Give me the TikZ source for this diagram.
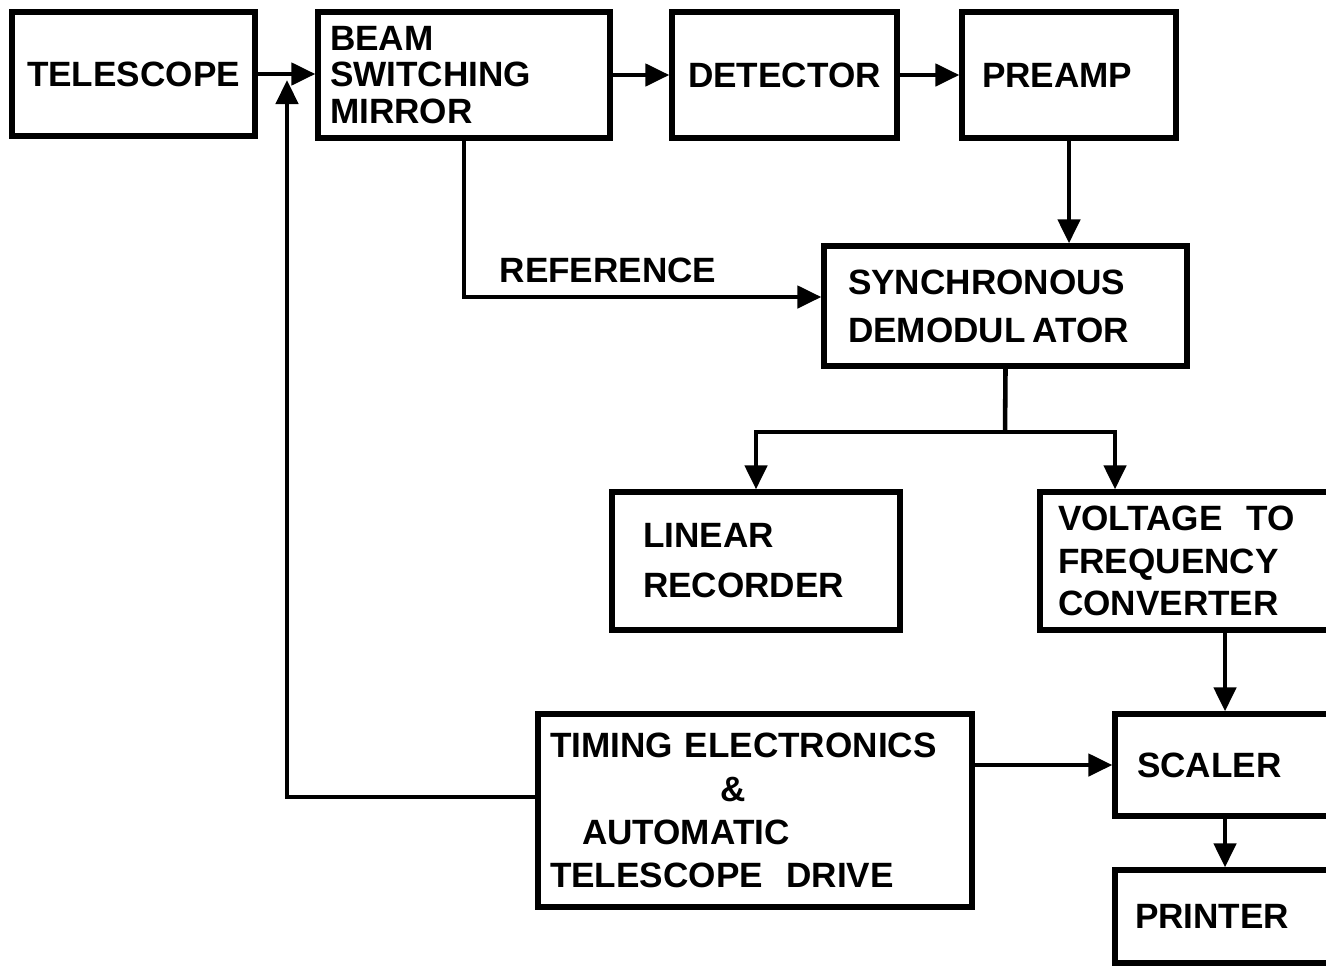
\documentclass[tikz,border=0pt]{standalone}
\usepackage{fontspec}
\setmainfont{Liberation Sans}
\usetikzlibrary{arrows.meta}
\newcommand{\lsp}[1]{\bfseries\fontsize{10pt}{#1}\selectfont}
\tikzset{blk/.style={draw, line width=1.5pt, inner sep=0pt, font=\lsp{12pt}},
         arr/.style={line width=1.3pt, -{Triangle[width=0.22cm,length=0.24cm]}}}

\begin{document}
\begin{tikzpicture}
  \useasboundingbox (0,0) rectangle (13.26,-9.67);
  \clip (0,0) rectangle (13.26,-9.67);
  \node[blk, minimum width=2.43cm, minimum height=1.24cm] (tel) at (1.335,-0.74) {TELESCOPE};
  \node[blk, minimum width=2.92cm, minimum height=1.26cm, text width=2.68cm, align=left, font=\lsp{10.5pt}] (bsm) at (4.64,-0.75) {BEAM\\SWITCHING\\MIRROR};
  \node[blk, minimum width=2.25cm, minimum height=1.26cm] (det) at (7.845,-0.75) {DETECTOR};
  \node[blk, minimum width=2.14cm, minimum height=1.26cm, text width=1.74cm, align=left] (pre) at (10.69,-0.75) {PREAMP};
  \node[blk, minimum width=3.63cm, minimum height=1.2cm, text width=3.15cm, align=left, font=\lsp{13.7pt}] (syn) at (10.055,-3.06) {SYNCHRONOUS\\DEMODUL\kern2pt ATOR};
  \node[blk, minimum width=2.88cm, minimum height=1.38cm, text width=2.26cm, align=left, font=\lsp{14.2pt}] (rec) at (7.56,-5.61) {LINEAR\\RECORDER};
  \node[blk, minimum width=3.05cm, minimum height=1.38cm, text width=2.69cm, align=left] (v2f) at (11.925,-5.61) {VOLTAGE\ \ TO\\FREQUENCY\\CONVERTER};
  \node[blk, minimum width=4.34cm, minimum height=1.93cm, text width=4.1cm, align=left, font=\lsp{12.3pt}] (tim) at (7.55,-8.105)
       {TIMING ELECTRONICS\\\hspace*{1.7cm}\&\\\hspace*{0.32cm}AUTOMATIC\\TELESCOPE\ \ DRIVE};
  \node[blk, minimum width=2.30cm, minimum height=1.02cm, text width=1.86cm, align=left] (scl) at (12.30,-7.65) {SCALER};
  \node[blk, minimum width=2.30cm, minimum height=0.93cm, text width=1.90cm, align=left] (prn) at (12.30,-9.165) {PRINTER};
  \node[font=\lsp{12pt}] (lref) at (6.08,-2.70) {REFERENCE};

  \coordinate (sp) at (10.05,-4.32);
  \coordinate (fb) at (2.87,-7.97);
  \coordinate (fbt) at (2.87,-0.80);
  \draw[arr] (tel.east) -- (tel.east -| bsm.west);
  \draw[arr] (bsm.east) -- (det.west);
  \draw[arr] (det.east) -- (pre.west);
  \draw[arr] (pre.south) -- (pre.south |- syn.north);
  \draw[arr] (bsm.south) |- ([yshift=0.09cm]syn.west);
  \draw[line width=1.3pt] (syn.south) -- (sp);
  \draw[arr] (sp) -| (rec.north);
  \draw[arr] (sp) -| (11.15,0 |- v2f.north);
  \draw[arr] (12.25,0 |- v2f.south) -- (12.25,0 |- scl.north);
  \draw[arr] (12.25,0 |- scl.south) -- (12.25,0 |- prn.north);
  \draw[arr] (tim.east |- scl.west) -- (scl.west);
  \draw[arr] (tim.west |- fb) -- (fb) -- (fbt);
\end{tikzpicture}
\end{document}
